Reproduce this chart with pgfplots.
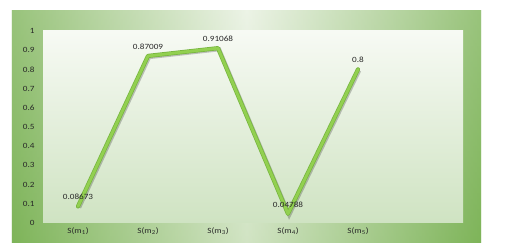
\documentclass[border=0pt]{standalone}
\usepackage{fontspec}
\setmainfont{Carlito}[FakeStretch=1.15]
\usepackage{pgfplots}
\pgfplotsset{compat=1.18}
\definecolor{frameDark}{RGB}{108,170,66}
\definecolor{frameLight}{RGB}{236,243,230}
\definecolor{areaTop}{RGB}{247,250,244}
\definecolor{areaBot}{RGB}{207,227,194}
\definecolor{lineGreen}{RGB}{146,208,80}
\definecolor{lineEdge}{RGB}{118,180,62}
\definecolor{txt}{RGB}{40,40,40}
\begin{document}
\begin{tikzpicture}
% overall page size
\path (-43bp,-29bp) rectangle (474bp,223bp);
% outer frame
\shade[left color=frameDark, right color=frameDark, middle color=frameLight] (-31bp,-19bp) rectangle (438bp,212bp);
\shade[top color=frameDark!0!frameLight, bottom color=frameDark!60!frameLight, opacity=0.35] (-31bp,-19bp) rectangle (438bp,212bp);
% inner plot area
\shade[top color=areaTop, bottom color=areaBot] (0bp,0bp) rectangle (420bp,192bp);
\begin{axis}[
  at={(0,0)}, anchor=south west,
  scale only axis, width=420bp, height=192bp,
  xmin=-0.5, xmax=5.5, ymin=0, ymax=1,
  axis line style={draw=none},
  major tick length=0pt,
  xtick={0,1,2,3,4},
  xticklabels={S(m\textsubscript{1}),S(m\textsubscript{2}),S(m\textsubscript{3}),S(m\textsubscript{4}),S(m\textsubscript{5})},
  ytick={0,0.1,...,1.01},
  /pgf/number format/assume math mode=true,
  yticklabel style={font=\fontsize{8}{9}\selectfont, text=txt, /pgf/number format/fixed, xshift=-5bp},
  xticklabel style={font=\fontsize{8}{9}\selectfont, text=txt, yshift=-1.5bp},
  clip=false,
  nodes near coords,
  point meta=explicit symbolic,
  every node near coord/.append style={font=\fontsize{8}{9}\selectfont, text=txt, anchor=south, yshift=2bp},
]
\addplot[draw=black, opacity=0.22, line width=4bp, shift={(1.2bp,-1.2bp)}, nodes near coords={}] coordinates {(0,0.08673) (1,0.87009) (2,0.91068) (3,0.04788) (4,0.8)};
\addplot[draw=lineEdge, line width=4.2bp, line join=round, line cap=round, nodes near coords={}] coordinates {(0,0.08673) (1,0.87009) (2,0.91068) (3,0.04788) (4,0.8)};
\addplot[draw=lineGreen, line width=2.8bp, line join=round, line cap=round] coordinates {
(0,0.08673)[0.08673]
(1,0.87009)[0.87009]
(2,0.91068)[0.91068]
(3,0.04788)[0.04788]
(4,0.8)[0.8]
};
\end{axis}
\end{tikzpicture}
\end{document}
